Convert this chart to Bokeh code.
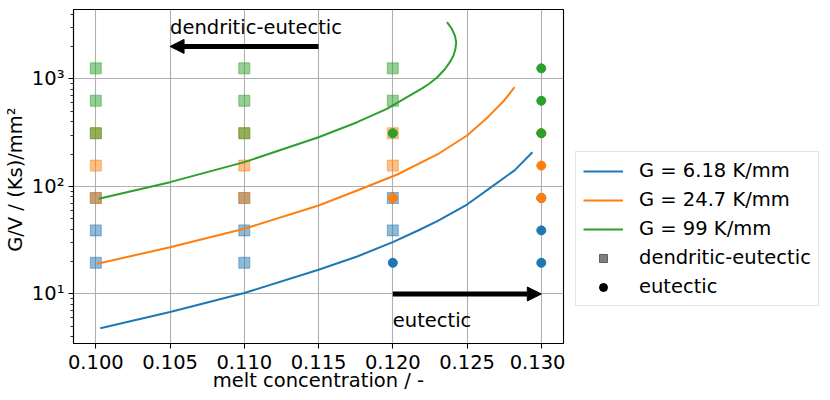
from bokeh.plotting import figure
from bokeh.layouts import row
from bokeh.models import (Range1d, FixedTicker, CustomJSTickFormatter, Legend, LegendItem,
                          Arrow, NormalHead, Label, NumeralTickFormatter)
from bokeh.embed import file_html
from bokeh.resources import INLINE

FONT = "DejaVu Sans"
FS = "19.5px"

# ---- curves ----
blue_x = [0.1003, 0.105, 0.110, 0.115, 0.1176, 0.120, 0.1217, 0.1230, 0.125, 0.1267, 0.1282, 0.1294]
blue_y = [4.8, 6.8, 10.2, 16.8, 22.3, 30.3, 38.9, 47.5, 67.8, 100, 141, 208]

orange_x = [0.1001, 0.105, 0.110, 0.115, 0.1176, 0.1203, 0.1230, 0.125, 0.1264, 0.1275, 0.1282]
orange_y = [19.1, 27.2, 40.4, 66.4, 91.6, 129, 198, 297, 440, 629, 835]

green_x = [0.1002, 0.105, 0.110, 0.115, 0.1176, 0.1196, 0.1220, 0.12245, 0.1230, 0.12353,
           0.12384, 0.12409, 0.12422, 0.12427, 0.12418, 0.12397, 0.12365]
green_y = [76.7, 109.5, 168, 286, 395, 526, 818, 899, 1035, 1239,
           1427, 1648, 1900, 2188, 2523, 2918, 3357]

# ---- simulation points ----
blue_dend_x = [0.10, 0.10, 0.10, 0.11, 0.11, 0.11, 0.12, 0.12]
blue_dend_y = [19.5, 39, 78, 19.5, 39, 78, 39, 78]
blue_eut_x = [0.12, 0.13, 0.13, 0.13]
blue_eut_y = [19.5, 19.5, 39, 78]

orange_dend_x = [0.10, 0.10, 0.10, 0.11, 0.11, 0.11, 0.12, 0.12]
orange_dend_y = [78, 156, 312, 78, 156, 312, 156, 312]
orange_eut_x = [0.12, 0.13, 0.13, 0.13]
orange_eut_y = [78, 78, 156, 312]

green_dend_x = [0.10, 0.10, 0.10, 0.11, 0.11, 0.11, 0.12, 0.12]
green_dend_y = [312, 625, 1250, 312, 625, 1250, 625, 1250]
green_eut_x = [0.12, 0.13, 0.13, 0.13]
green_eut_y = [312, 312, 625, 1250]

series_labels = ["G = 6.18 K/mm", "G = 24.7 K/mm", "G = 99 K/mm"]
marker_labels = ["dendritic-eutectic", "eutectic"]
x_ticks = [0.100, 0.105, 0.110, 0.115, 0.120, 0.125, 0.130]
y_ticks = [10, 100, 1000]
y_minor = [4, 5, 6, 7, 8, 9, 20, 30, 40, 50, 60, 70, 80, 90,
           200, 300, 400, 500, 600, 700, 800, 900, 2000, 3000, 4000]

colors = ["#1f77b4", "#ff7f0e", "#2ca02c"]

p = figure(frame_width=490, frame_height=334, y_axis_type="log",
           x_range=Range1d(0.098498, 0.131495), y_range=Range1d(3.467, 4406),
           output_backend="svg", toolbar_location=None,
           min_border_left=68, min_border_right=2, min_border_top=9, min_border_bottom=40)

p.outline_line_color = "black"
p.outline_line_width = 1.1
p.outline_line_alpha = 1.0
p.background_fill_color = "white"
p.border_fill_color = "white"

for ax in (p.xaxis[0], p.yaxis[0]):
    ax.axis_line_color = "black"
    ax.axis_line_width = 1.1
    ax.major_tick_line_color = "black"
    ax.major_tick_line_width = 1.1
    ax.major_tick_in = 0
    ax.major_tick_out = 5
    ax.minor_tick_in = 0
    ax.minor_tick_out = 3
    ax.minor_tick_line_color = "black"
    ax.minor_tick_line_width = 0.8
    ax.major_label_text_font = FONT
    ax.major_label_text_font_size = FS
    ax.major_label_text_color = "black"
    ax.axis_label_text_font = FONT
    ax.axis_label_text_font_size = FS
    ax.axis_label_text_font_style = "normal"
    ax.axis_label_text_color = "black"

p.xaxis.ticker = FixedTicker(ticks=x_ticks, minor_ticks=[])
p.xaxis.formatter = NumeralTickFormatter(format="0.000")
p.xaxis.axis_label = "melt concentration / -"
p.xaxis.major_label_standoff = 6
p.xaxis.axis_label_standoff = -3

p.yaxis.ticker = FixedTicker(ticks=y_ticks, minor_ticks=y_minor)
p.yaxis.formatter = CustomJSTickFormatter(code="""
const e = Math.round(Math.log10(tick));
const sup = {'0':'\u2070','1':'\u00b9','2':'\u00b2','3':'\u00b3','4':'\u2074'};
return '10' + String(e).split('').map(c => sup[c]).join('');
""")
p.yaxis.axis_label = "G/V /  (Ks)/mm\u00b2"
p.yaxis.major_label_standoff = 4
p.yaxis.axis_label_standoff = 2

p.xgrid.ticker = FixedTicker(ticks=x_ticks)
p.ygrid.ticker = FixedTicker(ticks=y_ticks)
for g in (p.xgrid[0], p.ygrid[0]):
    g.grid_line_color = "#b0b0b0"
    g.grid_line_width = 1.1
    g.grid_line_alpha = 1.0

dend = [(blue_dend_x, blue_dend_y), (orange_dend_x, orange_dend_y), (green_dend_x, green_dend_y)]
eut = [(blue_eut_x, blue_eut_y), (orange_eut_x, orange_eut_y), (green_eut_x, green_eut_y)]
for (dx, dy), (ex, ey), c in zip(dend, eut, colors):
    p.scatter(dx, dy, marker="square", size=11, fill_color=c, fill_alpha=0.5,
              line_color=c, line_alpha=0.5, line_width=1)
    p.scatter(ex, ey, marker="circle", size=9, fill_color=c, line_color=c, line_width=1)

for (cx, cy), c in zip([(blue_x, blue_y), (orange_x, orange_y), (green_x, green_y)], colors):
    p.line(cx, cy, line_color=c, line_width=2)

p.add_layout(Arrow(x_start=0.115, y_start=2000, x_end=0.105, y_end=2000,
                   line_color="black", line_width=5,
                   end=NormalHead(size=14, fill_color="black", line_color="black", line_width=1)))
p.add_layout(Arrow(x_start=0.12, y_start=10, x_end=0.13, y_end=10,
                   line_color="black", line_width=5,
                   end=NormalHead(size=14, fill_color="black", line_color="black", line_width=1)))
p.add_layout(Label(x=0.105, y=2980, text="dendritic-eutectic", text_font=FONT,
                   text_font_size=FS, text_baseline="alphabetic", text_color="black"))
p.add_layout(Label(x=0.12, y=5.69, text="eutectic", text_font=FONT,
                   text_font_size=FS, text_baseline="alphabetic", text_color="black"))

# ---- legend panel (keys only, drawn off-range so only the legend shows them) ----
lp = figure(width=255, height=384, x_range=Range1d(0, 1), y_range=Range1d(0, 1),
            x_axis_location=None, y_axis_location=None,
            output_backend="svg", toolbar_location=None,
            min_border_left=0, min_border_right=0, min_border_top=0, min_border_bottom=0)
lp.xgrid.visible = False
lp.ygrid.visible = False
lp.outline_line_color = None
lp.background_fill_color = "white"
lp.border_fill_color = "white"

items = []
for lab, c in zip(series_labels, colors):
    r = lp.line([5, 6], [5, 5], line_color=c, line_width=2)
    items.append(LegendItem(label=lab, renderers=[r]))
sq_r = lp.scatter([5], [5], marker="square", size=10, fill_color="black", fill_alpha=0.5,
                  line_color="black", line_alpha=0.5)
ci_r = lp.scatter([5], [5], marker="circle", size=9, fill_color="black", line_color="black")
items.append(LegendItem(label=marker_labels[0], renderers=[sq_r]))
items.append(LegendItem(label=marker_labels[1], renderers=[ci_r]))

legend = Legend(items=items, location=(10, 27), label_text_font=FONT,
                label_text_font_size=FS, label_text_color="black",
                glyph_width=40, glyph_height=20, label_height=20, label_standoff=16,
                spacing=6, padding=7, margin=0,
                border_line_color="#cccccc", border_line_width=1,
                background_fill_color="white", background_fill_alpha=0.8)
lp.add_layout(legend, "center")

layout = row(p, lp)
open("out.html", "w").write(file_html(layout, INLINE))
